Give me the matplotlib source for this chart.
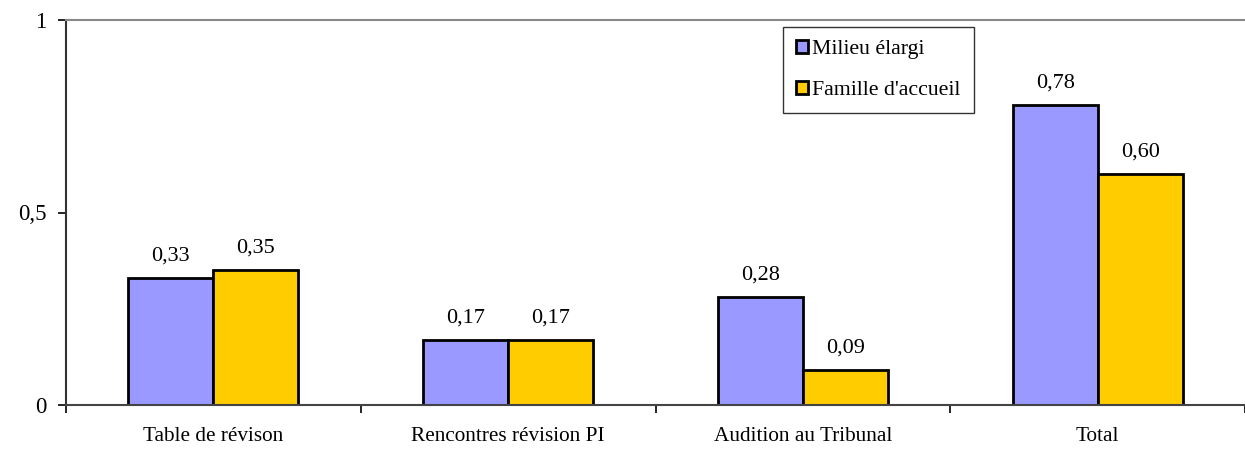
import numpy as np
from matplotlib import pyplot as plt

categories = ['Table de révison', 'Rencontres révision PI', 'Audition au Tribunal', 'Total']
milieu = [0.33, 0.17, 0.28, 0.78]
famille = [0.35, 0.17, 0.09, 0.60]
series_names = ['Milieu élargi', "Famille d'accueil"]

plt.rcParams['font.family'] = ['Liberation Serif', 'DejaVu Serif']

fig = plt.figure(figsize=(12.45, 4.49), dpi=100)
ax = fig.add_axes([66/1245, 1 - 405/449, 1 - 66/1245, (405 - 20)/449])

x = np.arange(len(categories)) + 0.5
w = 0.288
b1 = ax.bar(x - w/2, milieu, w, color='#9999FF', edgecolor='black', linewidth=2, label=series_names[0])
b2 = ax.bar(x + w/2, famille, w, color='#FFCC00', edgecolor='black', linewidth=2, label=series_names[1])

for bars, vals in ((b1, milieu), (b2, famille)):
    for r, v in zip(bars, vals):
        ax.annotate(f'{v:.2f}'.replace('.', ','), (r.get_x() + r.get_width()/2, v),
                    xytext=(0, 9), textcoords='offset points', ha='center', va='bottom', fontsize=16)

ax.set_xlim(0, 4)
ax.set_ylim(0, 1)
ax.set_yticks([0, 0.5, 1])
ax.set_yticklabels(['0', '0,5', '1'], fontsize=16.5)
ax.set_xticks([0, 1, 2, 3, 4])
ax.set_xticklabels([])
ax.set_xticks(x, minor=True)
ax.set_xticklabels(categories, minor=True, fontsize=15.3)
ax.tick_params(axis='x', which='minor', length=0, pad=16)
ax.tick_params(axis='x', which='major', direction='out', length=6, width=1.2)
ax.tick_params(axis='y', direction='out', length=6, width=1.2, pad=8)

ax.spines['left'].set_color('#333333')
ax.spines['left'].set_linewidth(1.5)
ax.spines['bottom'].set_color('#444444')
ax.spines['bottom'].set_linewidth(1.5)
ax.spines['top'].set_color('#888888')
ax.spines['top'].set_linewidth(1.5)
ax.spines['right'].set_visible(False)

leg = ax.legend(loc='upper left', bbox_to_anchor=(0.608, 0.982), borderaxespad=0, fontsize=15.7,
                frameon=True, fancybox=False, edgecolor='black', handlelength=0.55, handleheight=0.55,
                handletextpad=0.2, labelspacing=1.0, borderpad=0.6)
leg.get_frame().set_linewidth(1.0)

fig.savefig('out.png', dpi=100)
